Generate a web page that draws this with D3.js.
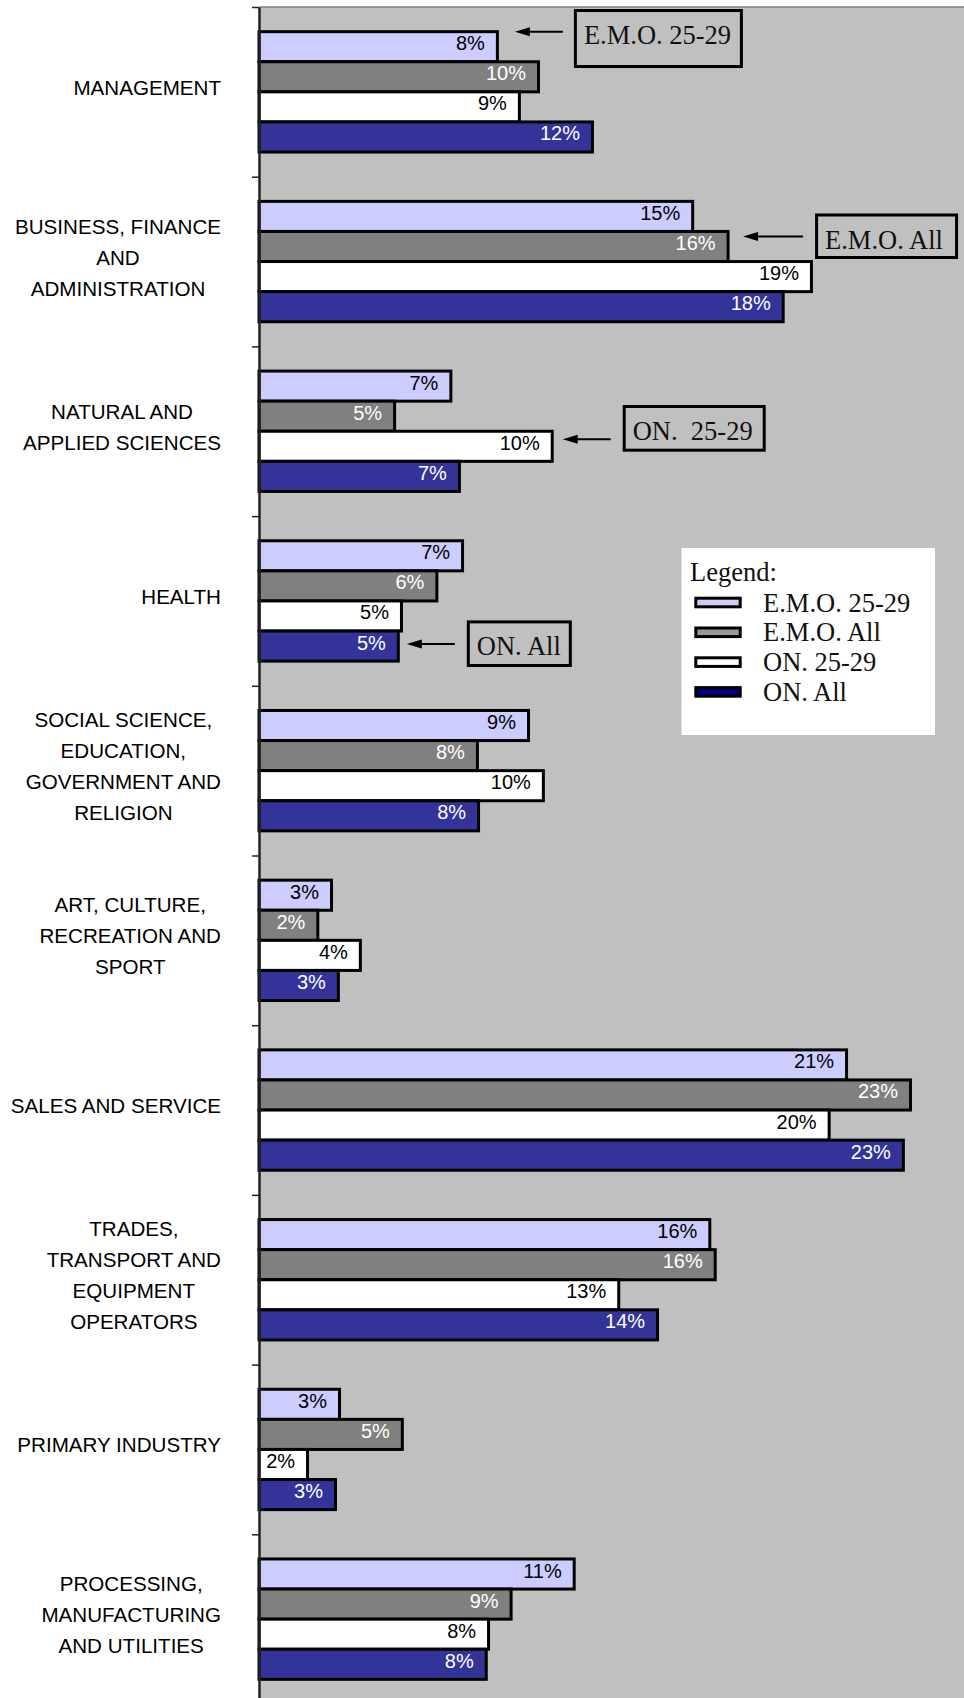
<!DOCTYPE html>
<html><head><meta charset="utf-8">
<script src="https://cdn.jsdelivr.net/npm/d3@7"></script>
<style>body{margin:0;background:#fff} svg{display:block}</style>
</head><body><svg id="c" width="964" height="1698"></svg>
<script>
// ---------- data ----------
const categories = [
  "MANAGEMENT",
  "BUSINESS, FINANCE|AND|ADMINISTRATION",
  "NATURAL AND|APPLIED SCIENCES",
  "HEALTH",
  "SOCIAL SCIENCE,|EDUCATION,|GOVERNMENT AND|RELIGION",
  "ART, CULTURE,|RECREATION AND|SPORT",
  "SALES AND SERVICE",
  "TRADES,|TRANSPORT AND|EQUIPMENT|OPERATORS",
  "PRIMARY INDUSTRY",
  "PROCESSING,|MANUFACTURING|AND UTILITIES"
];
const seriesNames = ["E.M.O. 25-29", "E.M.O. All", "ON. 25-29", "ON. All"];
const emo2529 = [8.35, 15.19, 6.72, 7.13, 9.44, 2.54, 20.58, 15.79, 2.82, 11.04];
const emoAll  = [9.79, 16.43, 4.75, 6.23, 7.65, 2.06, 22.82, 15.98, 5.02, 8.83];
const on2529  = [9.12, 19.35, 10.27, 4.99, 9.96, 3.55, 19.97, 12.60, 1.70, 8.04];
const onAll   = [11.68, 18.36, 7.02, 4.88, 7.69, 2.78, 22.57, 13.96, 2.68, 7.96];
const seriesValues = [emo2529, emoAll, on2529, onAll];
const xDomain = [0, 25];

// ---------- styles ----------
const barColors = ["#CCCCFF", "#808080", "#FFFFFF", "#333399"];
const labelColors = ["#000", "#fff", "#000", "#fff"];
const legendColors = ["#CCCCF5", "#999999", "#FFFFFF", "#000080"];
const annotations = [
  {text: "E.M.O. 25-29", cat: 0, series: 0, gap: 17.5, dy: -15, len: 48, boxGap: 11, boxW: 169, boxH: 59, boxTop: -22.7},
  {text: "E.M.O. All",   cat: 1, series: 1, gap: 15,   dy: -10, len: 60, boxGap: 12, boxW: 143, boxH: 45.5, boxTop: -23},
  {text: "ON.  25-29",   cat: 2, series: 2, gap: 10.5, dy: -7,  len: 48, boxGap: 12, boxW: 143, boxH: 46.7, boxTop: -34.3},
  {text: "ON. All",      cat: 3, series: 3, gap: 8.5,  dy: -2,  len: 48, boxGap: 12, boxW: 105, boxH: 46.6, boxTop: -23.7}
];

const svg = d3.select("#c");
const W = 964, H = 1698;
const plotLeft = 259, plotTop = 7;

const x = d3.scaleLinear().domain(xDomain).range([plotLeft, plotLeft + 25 * 28.55]);
const y0 = d3.scaleBand().domain(d3.range(categories.length)).range([plotTop, plotTop + 169.7 * categories.length]).padding(0);
const y1 = d3.scaleBand().domain(seriesNames).range([0, y0.bandwidth()]).paddingInner(0).paddingOuter(0.82);

// plot background
svg.append("rect").attr("x", plotLeft).attr("y", plotTop).attr("width", W - plotLeft).attr("height", H - plotTop).attr("fill", "#C0C0C0");
svg.append("line").attr("x1", plotLeft).attr("x2", W).attr("y1", plotTop).attr("y2", plotTop).attr("stroke", "#808080").attr("stroke-width", 1.5);

// bars
const groups = svg.append("g").selectAll("g").data(categories).join("g")
  .attr("transform", (d, i) => `translate(0,${y0(i)})`);
groups.each(function(c, i) {
  const g = d3.select(this);
  seriesNames.forEach((s, si) => {
    const v = seriesValues[si][i];
    g.append("rect")
      .attr("x", x(0)).attr("y", y1(s))
      .attr("width", x(v) - x(0)).attr("height", y1.bandwidth())
      .attr("fill", barColors[si]).attr("stroke", "#000").attr("stroke-width", 3);
  });
  seriesNames.forEach((s, si) => {
    const v = seriesValues[si][i];
    g.append("text")
      .attr("x", x(v) - 12.5).attr("y", y1(s) + y1.bandwidth() / 2 + 3.5)
      .attr("text-anchor", "end")
      .attr("font-family", "'Liberation Sans', Arial, sans-serif").attr("font-size", 20)
      .attr("fill", labelColors[si])
      .text(Math.round(v) + "%");
  });
});

// category axis (ticks between categories)
const yB = d3.scaleLinear().domain([0, categories.length]).range(y0.range());
const axis = svg.append("g").attr("transform", `translate(${plotLeft},0)`)
  .call(d3.axisLeft(yB).tickValues(d3.range(categories.length + 1)).tickSize(7).tickSizeOuter(0).tickFormat(""));
axis.select(".domain").attr("stroke", "#222").attr("stroke-width", 2.5);
axis.selectAll(".tick line").attr("stroke", "#222").attr("stroke-width", 1.5);

// category labels
const labelRight = 221, lineH = 31;
categories.forEach((c, i) => {
  const lines = c.split("|");
  const cy = y0(i) + y0.bandwidth() / 2 - 4.5;
  const t = svg.append("g");
  const texts = lines.map((ln, k) => t.append("text")
    .attr("font-family", "'Liberation Sans', Arial, sans-serif").attr("font-size", 20.6)
    .attr("fill", "#000").attr("text-anchor", "middle")
    .attr("y", cy + (k - (lines.length - 1) / 2) * lineH + 7.5)
    .text(ln));
  const maxW = d3.max(texts, tx => tx.node().getComputedTextLength());
  texts.forEach(tx => tx.attr("x", labelRight - maxW / 2));
});

// annotations
const serif = "'Liberation Serif', 'Times New Roman', serif";
annotations.forEach(a => {
  const v = seriesValues[a.series][a.cat];
  const ay = y0(a.cat) + y1(seriesNames[a.series]) + y1.bandwidth() / 2 + a.dy;
  const tip = x(v) + a.gap, tail = tip + a.len;
  const g = svg.append("g");
  g.append("line").attr("x1", tip + 12).attr("x2", tail).attr("y1", ay).attr("y2", ay)
    .attr("stroke", "#000").attr("stroke-width", 2);
  g.append("path").attr("d", `M${tip},${ay} L${tip + 15},${ay - 4.5} L${tip + 15},${ay + 4.5} Z`).attr("fill", "#000");
  const bx = tail + a.boxGap, by = ay + a.boxTop;
  g.append("rect").attr("x", bx + 1.5).attr("y", by + 1.5).attr("width", a.boxW - 3).attr("height", a.boxH - 3)
    .attr("fill", "none").attr("stroke", "#000").attr("stroke-width", 3);
  g.append("text").attr("x", bx + 10).attr("y", by + 35)
    .attr("font-family", serif).attr("font-size", 26.5).attr("fill", "#111")
    .style("white-space", "pre").text(a.text);
});

// legend
const lg = svg.append("g");
lg.append("rect").attr("x", 681.5).attr("y", 548).attr("width", 253.5).attr("height", 187).attr("fill", "#fff");
lg.append("text").attr("x", 690).attr("y", 581).attr("font-family", serif).attr("font-size", 26.5).attr("fill", "#111").text("Legend:");
seriesNames.forEach((s, si) => {
  const base = 611.5 + si * 29.8;
  lg.append("rect").attr("x", 695.8).attr("y", base - 9 - 4.3).attr("width", 44.4).attr("height", 8.6)
    .attr("fill", legendColors[si]).attr("stroke", "#000").attr("stroke-width", 3);
  lg.append("text").attr("x", 763).attr("y", base).attr("font-family", serif).attr("font-size", 26.5).attr("fill", "#111").text(s);
});
</script>
</body></html>
